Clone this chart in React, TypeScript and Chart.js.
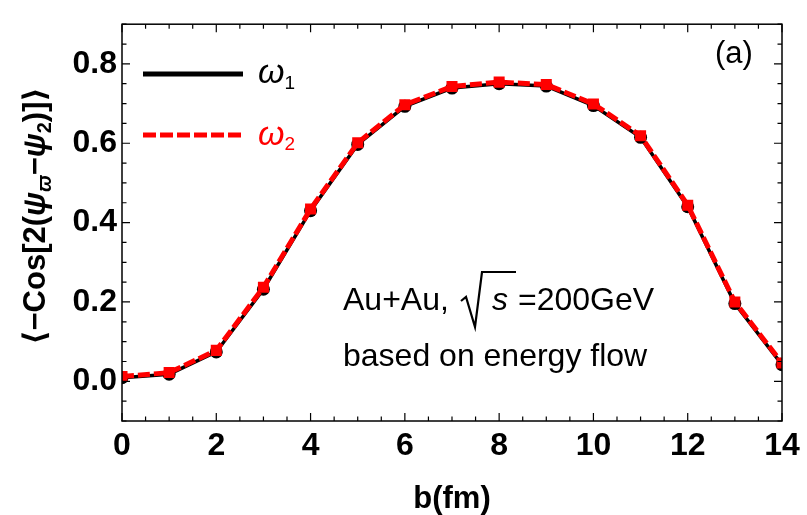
import React, { useEffect, useRef } from "react";
import { Chart, registerables } from "chart.js";

Chart.register(...registerables);

// ---- data ----
const bValues = [0, 1, 2, 3, 4, 5, 6, 7, 8, 9, 10, 11, 12, 13, 14];
const omega1 = [0.009, 0.018, 0.074, 0.232, 0.430, 0.597, 0.693, 0.739, 0.750, 0.744, 0.695, 0.615, 0.440, 0.196, 0.042];
const omega2 = [0.012, 0.022, 0.078, 0.237, 0.434, 0.601, 0.697, 0.743, 0.754, 0.748, 0.699, 0.619, 0.444, 0.200, 0.046];
const xTickValues = [0, 2, 4, 6, 8, 10, 12, 14];
const yTickValues = [0, 0.2, 0.4, 0.6, 0.8];
const X_MIN = 0;
const X_MAX = 14;
const Y_MIN = -0.1;
const Y_MAX = 0.9;

const FONT = "'Liberation Sans', Arial, Helvetica, 'DejaVu Sans', sans-serif";

const decorPlugin = {
  id: "decor",
  beforeDraw(chart: any) {
    const ctx = chart.ctx;
    ctx.save();
    ctx.fillStyle = "#fff";
    ctx.fillRect(0, 0, chart.width, chart.height);
    ctx.restore();
  },
  afterDraw(chart: any) {
    const ctx: CanvasRenderingContext2D = chart.ctx;
    const { left, right, top, bottom } = chart.chartArea;
    const x = chart.scales.x;
    const y = chart.scales.y;
    ctx.save();
    // frame
    ctx.strokeStyle = "#000";
    ctx.lineWidth = 1.5;
    ctx.strokeRect(left, top, right - left, bottom - top);
    // ticks (inside, mirrored)
    ctx.lineWidth = 1.2;
    ctx.beginPath();
    for (let i = 0; i <= 28; i++) {
      const v = i * 0.5;
      const px = x.getPixelForValue(v);
      const len = i % 4 === 0 ? 8 : 4.5;
      ctx.moveTo(px, bottom);
      ctx.lineTo(px, bottom - len);
      ctx.moveTo(px, top);
      ctx.lineTo(px, top + len);
    }
    for (let i = -2; i <= 18; i++) {
      const v = i * 0.05;
      const py = y.getPixelForValue(v);
      const len = i % 4 === 0 ? 8 : 4.5;
      ctx.moveTo(left, py);
      ctx.lineTo(left + len, py);
      ctx.moveTo(right, py);
      ctx.lineTo(right - len, py);
    }
    ctx.stroke();

    // x title
    ctx.fillStyle = "#000";
    ctx.font = `bold 31px ${FONT}`;
    ctx.textAlign = "center";
    ctx.textBaseline = "alphabetic";
    ctx.fillText("b(fm)", (left + right) / 2, 508);

    // y title with subscripts
    ctx.save();
    ctx.translate(45, 216);
    ctx.rotate(-Math.PI / 2);
    ctx.textAlign = "left";
    const parts: { t: string; f: string; dy: number }[] = [
      { t: "\u27E8", f: `bold 31px ${FONT}`, dy: 0 },
      { t: "\u2212Cos[2(", f: `bold 31px ${FONT}`, dy: 0 },
      { t: "\u03C8", f: `italic bold 31px ${FONT}`, dy: 0 },
      { t: "\u03D6", f: `italic bold 20px ${FONT}`, dy: 6 },
      { t: "\u2212", f: `bold 31px ${FONT}`, dy: 0 },
      { t: "\u03C8", f: `italic bold 31px ${FONT}`, dy: 0 },
      { t: "2", f: `bold 20px ${FONT}`, dy: 6 },
      { t: ")]", f: `bold 31px ${FONT}`, dy: 0 },
      { t: "\u27E9", f: `bold 31px ${FONT}`, dy: 0 },
    ];
    let total = 0;
    const widths = parts.map((p) => {
      ctx.font = p.f;
      const w = ctx.measureText(p.t).width;
      total += w;
      return w;
    });
    let cx = -total / 2;
    parts.forEach((p, i) => {
      ctx.font = p.f;
      ctx.fillText(p.t, cx, p.dy);
      cx += widths[i];
    });
    ctx.restore();

    // legend
    ctx.lineWidth = 5;
    ctx.strokeStyle = "#000";
    ctx.setLineDash([]);
    ctx.beginPath();
    ctx.moveTo(143, 74);
    ctx.lineTo(243, 74);
    ctx.stroke();
    ctx.strokeStyle = "#f00";
    ctx.setLineDash([13, 4]);
    ctx.beginPath();
    ctx.moveTo(143, 135);
    ctx.lineTo(243, 135);
    ctx.stroke();
    ctx.setLineDash([]);

    ctx.textAlign = "left";
    ctx.fillStyle = "#000";
    ctx.font = `italic 34px ${FONT}`;
    ctx.fillText("\u03C9", 258, 83);
    let w = ctx.measureText("\u03C9").width;
    ctx.font = `19px ${FONT}`;
    ctx.fillText("1", 258 + w, 89);
    ctx.fillStyle = "#f00";
    ctx.font = `italic 34px ${FONT}`;
    ctx.fillText("\u03C9", 258, 145);
    w = ctx.measureText("\u03C9").width;
    ctx.font = `19px ${FONT}`;
    ctx.fillText("2", 258 + w, 150);

    // panel label
    ctx.fillStyle = "#000";
    ctx.font = `31px ${FONT}`;
    ctx.fillText("(a)", 715, 63);

    // annotation
    ctx.font = `32px ${FONT}`;
    ctx.fillText("Au+Au, ", 343, 310);
    ctx.lineWidth = 2.2;
    ctx.strokeStyle = "#000";
    ctx.beginPath();
    ctx.moveTo(461, 301);
    ctx.lineTo(466, 297);
    ctx.lineTo(475, 327);
    ctx.lineTo(482, 272);
    ctx.lineTo(516, 272);
    ctx.stroke();
    ctx.font = `italic 32px ${FONT}`;
    ctx.fillText("s", 492, 310);
    ctx.font = `32px ${FONT}`;
    ctx.fillText("=200GeV", 518, 310);
    ctx.fillText("based on energy flow", 343, 366);

    ctx.restore();
  },
};

export default function App() {
  const canvasRef = useRef<HTMLCanvasElement | null>(null);

  useEffect(() => {
    document.body.style.margin = "0";
    const canvas = canvasRef.current;
    if (!canvas) return;
    const tickFont = { family: FONT, size: 32, weight: "bold" as const };
    const chart = new Chart(canvas, {
      type: "line",
      data: {
        datasets: [
          {
            label: "\u03C91",
            data: bValues.map((b, i) => ({ x: b, y: omega1[i] })),
            borderColor: "#000",
            backgroundColor: "#000",
            borderWidth: 3.5,
            pointStyle: "circle",
            pointRadius: 6.5,
            pointBorderWidth: 0,
            tension: 0,
            clip: 0,
            order: 1,
          } as any,
          {
            label: "\u03C92",
            data: bValues.map((b, i) => ({ x: b, y: omega2[i] })),
            borderColor: "#f00",
            backgroundColor: "#f00",
            borderWidth: 5,
            borderDash: [12, 4],
            pointStyle: "rect",
            pointRadius: 7.8,
            pointBorderWidth: 0,
            tension: 0,
            clip: 0,
            order: 0,
          } as any,
        ],
      },
      options: {
        animation: false,
        responsive: false,
        devicePixelRatio: 1,
        layout: { padding: { top: 12, right: 25, left: 0, bottom: 0 } },
        plugins: { legend: { display: false }, tooltip: { enabled: false } },
        scales: {
          x: {
            type: "linear",
            min: X_MIN,
            max: X_MAX,
            afterBuildTicks: (s: any) => {
              s.ticks = xTickValues.map((v) => ({ value: v }));
            },
            afterFit: (s: any) => {
              s.height = 94;
            },
            grid: { display: false, drawTicks: false },
            border: { display: false },
            ticks: {
              font: tickFont,
              color: "#000",
              padding: 6,
              maxRotation: 0,
              autoSkip: false,
              callback: (v: any) => String(v),
            },
          },
          y: {
            type: "linear",
            min: Y_MIN,
            max: Y_MAX,
            afterBuildTicks: (s: any) => {
              s.ticks = yTickValues.map((v) => ({ value: v }));
            },
            afterFit: (s: any) => {
              s.width = 122;
            },
            grid: { display: false, drawTicks: false },
            border: { display: false },
            ticks: {
              font: tickFont,
              color: "#000",
              padding: 5,
              autoSkip: false,
              callback: (v: any) => Number(v).toFixed(1),
            },
          },
        },
      },
      plugins: [decorPlugin],
    });
    return () => chart.destroy();
  }, []);

  return (
    <div style={{ width: 807, height: 515 }}>
      <canvas ref={canvasRef} width={807} height={515} style={{ display: "block" }} />
    </div>
  );
}
